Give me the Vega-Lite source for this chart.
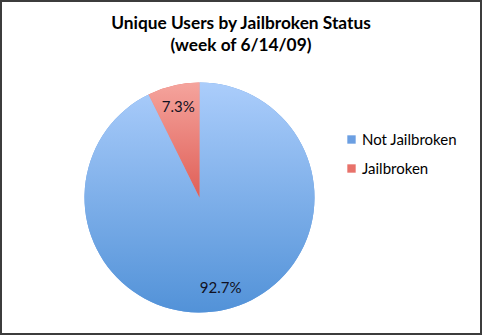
{
  "$schema": "https://vega.github.io/schema/vega-lite/v6.json",
  "width": 482,
  "height": 335,
  "padding": 0,
  "autosize": "none",
  "background": "white",
  "config": {
    "view": {"stroke": null},
    "font": "Lato"
  },
  "title": {
    "text": ["Unique Users by Jailbroken Status", "(week of 6/14/09)"],
    "font": "Lato",
    "fontSize": 17.3,
    "fontWeight": "bold",
    "color": "#000000",
    "anchor": "middle",
    "offset": -56,
    "lineHeight": 22
  },
  "layer": [
    {
      "data": {"values": [{"frame": "border"}]},
      "mark": {"type": "rect", "fill": null, "fillOpacity": 0, "stroke": "#3c3c3c", "strokeWidth": 4, "strokeJoin": "miter"}
    },
    {
      "data": {
        "values": [
          {"status": "Not Jailbroken", "share": 0.927, "ord": 1},
          {"status": "Jailbroken", "share": 0.073, "ord": 2}
        ]
      },
      "encoding": {
        "theta": {"field": "share", "type": "quantitative", "stack": true},
        "order": {"field": "ord", "type": "ordinal"}
      },
      "layer": [
        {
          "mark": {"type": "arc", "radius": 115, "xOffset": -41.5, "yOffset": 30},
          "encoding": {
            "color": {
              "field": "status",
              "type": "nominal",
              "scale": {"domain": ["Not Jailbroken", "Jailbroken"], "range": ["#6b9fe2", "#e8726a"]},
              "legend": {
                "title": null,
                "orient": "none",
                "legendX": 344,
                "legendY": 132,
                "symbolType": "square",
                "symbolSize": 70,
                "symbolStrokeWidth": 0,
                "symbolOpacity": 1,
                "labelFont": "Lato",
                "labelFontSize": 15,
                "labelColor": "#000000",
                "rowPadding": 13,
                "labelOffset": 3
              }
            }
          }
        },
        {
          "mark": {"type": "arc", "radius": 115, "xOffset": -41.5, "yOffset": 30},
          "encoding": {
            "fill": {
              "condition": {
                "test": "datum.status === 'Jailbroken'",
                "value": {
                  "gradient": "linear", "x1": 0, "y1": 0, "x2": 0, "y2": 1,
                  "stops": [{"offset": 0, "color": "#f5a49d"}, {"offset": 1, "color": "#df5f57"}]
                }
              },
              "value": {
                "gradient": "linear", "x1": 0, "y1": 0, "x2": 0, "y2": 1,
                "stops": [{"offset": 0, "color": "#abcdfb"}, {"offset": 1, "color": "#5292d8"}]
              }
            }
          }
        },
        {
          "mark": {"type": "text", "radius": 93, "xOffset": -41.5, "yOffset": 30, "fontSize": 15, "font": "Lato", "color": "#111122"},
          "encoding": {
            "text": {"field": "share", "type": "quantitative", "format": ".1%"}
          }
        }
      ]
    }
  ]
}
